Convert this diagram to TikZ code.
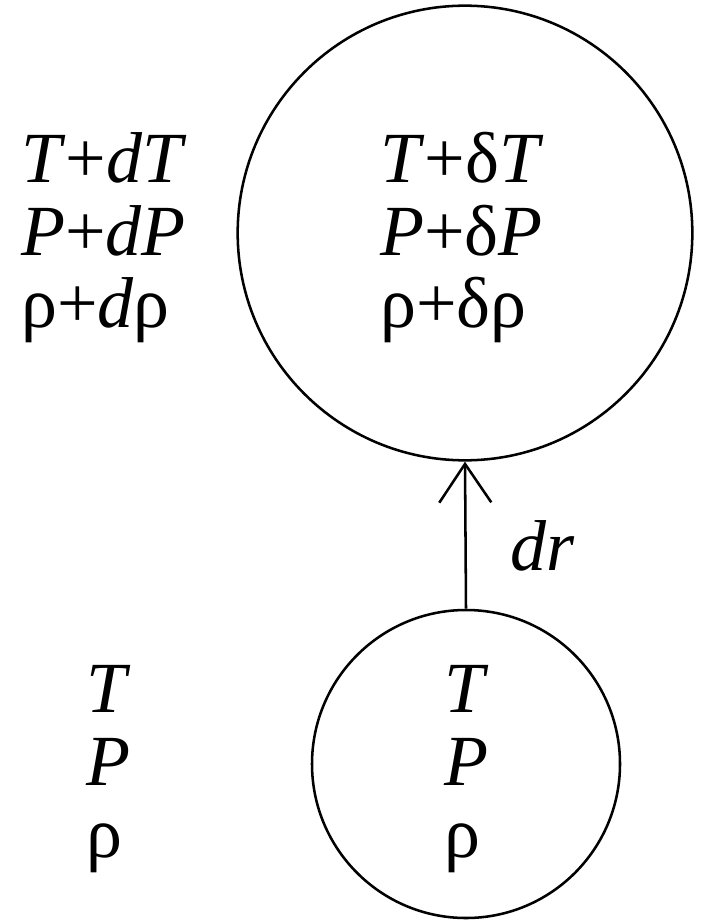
\documentclass[tikz,border=0pt]{standalone}
\usepackage{fontspec}
\setmainfont{Liberation Serif}
\usetikzlibrary{arrows.meta}
\begin{document}
\begin{tikzpicture}[x=0.75pt,y=-0.75pt,
  lbl/.style={anchor=base west,inner sep=0pt,font=\fontsize{54}{54}\selectfont},
  ring/.style={circle,draw,line width=1.9pt,inner sep=0pt}]
\useasboundingbox (0,0) rectangle (706,920);
\node[ring,minimum size=341pt] (big) at (465,233) {};
\node[ring,minimum size=231pt] (small) at (466,764) {};
\draw[line width=1.9pt,-{Straight Barb[length=29pt,width=39pt,line width=1.9pt]}] (small.north) -- (big.south);
\node[lbl] (dr) at (510,570) {\textit{dr}};
% left upper
\node[lbl] (l1) at (21,182) {\textit{T}+\textit{dT}};
\node[lbl] (l2) at (21,255) {\textit{P}+\textit{dP}};
\node[lbl] (l3) at (21,327) {ρ+\textit{d}ρ};
% big circle
\node[lbl] (b1) at (380,182) {\textit{T}+δ\textit{T}};
\node[lbl] (b2) at (380,255) {\textit{P}+δ\textit{P}};
\node[lbl] (b3) at (380,327) {ρ+δρ};
% left lower
\node[lbl] (s1) at (86,712) {\textit{T}};
\node[lbl] (s2) at (86,785) {\textit{P}};
\node[lbl] (s3) at (86,857) {ρ};
% small circle
\node[lbl] (c1) at (444,712) {\textit{T}};
\node[lbl] (c2) at (444,785) {\textit{P}};
\node[lbl] (c3) at (444,857) {ρ};
\end{tikzpicture}
\end{document}
